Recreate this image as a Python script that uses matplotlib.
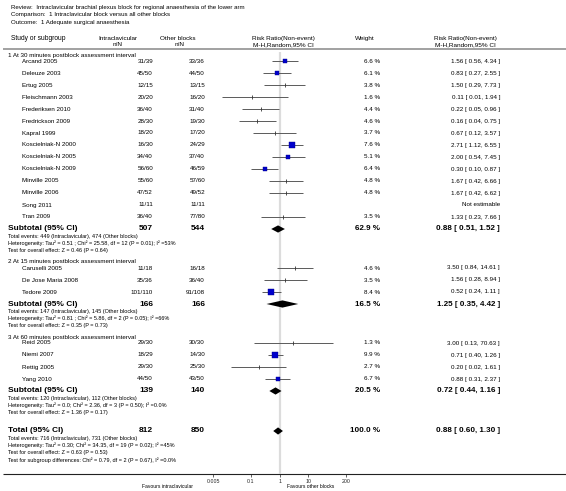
import numpy as np
import matplotlib
matplotlib.use("Agg")
import matplotlib.pyplot as plt

plt.rcParams['font.family'] = ['Liberation Sans', 'DejaVu Sans']

# header texts
review = "Review:  Intraclavicular brachial plexus block for regional anaesthesia of the lower arm"
comparison = "Comparison:  1 Intraclavicular block versus all other blocks"
outcome = "Outcome:  1 Adequate surgical anaesthesia"

# subgroup 1
title1 = "1 At 30 minutes postblock assessment interval"
studies1 = ["Arcand 2005", "Deleuze 2003", "Ertug 2005", "Fleischmann 2003", "Frederiksen 2010",
            "Fredrickson 2009", "Kapral 1999", "Koscielniak-N 2000", "Koscielniak-N 2005",
            "Koscielniak-N 2009", "Minville 2005", "Minville 2006", "Song 2011", "Tran 2009"]
intra1 = ["31/39", "45/50", "12/15", "20/20", "36/40", "28/30", "18/20", "16/30", "34/40",
          "56/60", "55/60", "47/52", "11/11", "36/40"]
other1 = ["33/36", "44/50", "13/15", "16/20", "31/40", "19/30", "17/20", "24/29", "37/40",
          "46/59", "57/60", "49/52", "11/11", "77/80"]
rr1 = [1.56, 0.83, 1.50, 0.11, 0.22, 0.16, 0.67, 2.71, 2.00, 0.30, 1.67, 1.67, None, 1.33]
lo1 = [0.56, 0.27, 0.29, 0.01, 0.05, 0.04, 0.12, 1.12, 0.54, 0.10, 0.42, 0.42, None, 0.23]
hi1 = [4.34, 2.55, 7.73, 1.94, 0.96, 0.75, 3.57, 6.55, 7.45, 0.87, 6.66, 6.62, None, 7.66]
w1 = [6.6, 6.1, 3.8, 1.6, 4.4, 4.6, 3.7, 7.6, 5.1, 6.4, 4.8, 4.8, None, 3.5]
sub1 = ["507", "544", 62.9, 0.88, 0.51, 1.52]
stats1 = ["Total events: 449 (Intraclavicular), 474 (Other blocks)",
          "Heterogeneity: Tau\u00b2 = 0.51 ; Chi\u00b2 = 25.58, df = 12 (P = 0.01); I\u00b2 =53%",
          "Test for overall effect: Z = 0.46 (P = 0.64)"]

# subgroup 2
title2 = "2 At 15 minutes postblock assessment interval"
studies2 = ["Caruselli 2005", "De Jose Maria 2008", "Tedore 2009"]
intra2 = ["11/18", "35/36", "101/110"]
other2 = ["16/18", "36/40", "91/108"]
rr2 = [3.50, 1.56, 0.52]
lo2 = [0.84, 0.28, 0.24]
hi2 = [14.61, 8.94, 1.11]
w2 = [4.6, 3.5, 8.4]
sub2 = ["166", "166", 16.5, 1.25, 0.35, 4.42]
stats2 = ["Total events: 147 (Intraclavicular), 145 (Other blocks)",
          "Heterogeneity: Tau\u00b2 = 0.81 ; Chi\u00b2 = 5.86, df = 2 (P = 0.05); I\u00b2 =66%",
          "Test for overall effect: Z = 0.35 (P = 0.73)"]

# subgroup 3
title3 = "3 At 60 minutes postblock assessment interval"
studies3 = ["Reid 2005", "Niemi 2007", "Rettig 2005", "Yang 2010"]
intra3 = ["29/30", "18/29", "29/30", "44/50"]
other3 = ["30/30", "14/30", "25/30", "43/50"]
rr3 = [3.00, 0.71, 0.20, 0.88]
lo3 = [0.13, 0.40, 0.02, 0.31]
hi3 = [70.63, 1.26, 1.61, 2.37]
w3 = [1.3, 9.9, 2.7, 6.7]
sub3 = ["139", "140", 20.5, 0.72, 0.44, 1.16]
stats3 = ["Total events: 120 (Intraclavicular), 112 (Other blocks)",
          "Heterogeneity: Tau\u00b2 = 0.0; Chi\u00b2 = 2.36, df = 3 (P = 0.50); I\u00b2 =0.0%",
          "Test for overall effect: Z = 1.36 (P = 0.17)"]

# overall
total = ["812", "850", 100.0, 0.88, 0.60, 1.30]
stats_total = ["Total events: 716 (Intraclavicular), 731 (Other blocks)",
               "Heterogeneity: Tau\u00b2 = 0.30; Chi\u00b2 = 34.35, df = 19 (P = 0.02); I\u00b2 =45%",
               "Test for overall effect: Z = 0.63 (P = 0.53)",
               "Test for subgroup differences: Chi\u00b2 = 0.79, df = 2 (P = 0.67), I\u00b2 =0.0%"]

ticks = [0.005, 0.1, 1, 10, 200]
tick_labels = ["0.005", "0.1", "1", "10", "200"]

W, H = 566, 491
fig = plt.figure(figsize=(W / 100, H / 100), dpi=100)
ax = fig.add_axes([0, 0, 1, 1])
ax.set_xlim(0, W)
ax.set_ylim(H, 0)
ax.axis('off')

# forest plot panel, y in pixel rows
fx0, fx1, fy_top, fy_axis = 213.3, 346.0, 52, 474
fx = fig.add_axes([fx0 / W, (H - fy_axis) / H, (fx1 - fx0) / W, (fy_axis - fy_top) / H])
fx.set_xscale('log')
fx.set_xlim(0.005, 200)
fx.set_ylim(fy_axis, fy_top)
fx.patch.set_visible(False)
for s in fx.spines.values():
    s.set_visible(False)
fx.set_yticks([])
fx.set_xticks(ticks)
fx.set_xticklabels(tick_labels, fontsize=3.8)
fx.minorticks_off()
fx.tick_params(axis='x', direction='out', length=2.2, width=0.5, pad=1.5, colors='#222222')
fx.axvline(1, color='#dcdcdc', lw=1.6, zorder=0)

XL, XS, XI, XO, XW, XR = 8, 22, 153, 205, 380, 500
fs_row, fs_stat, fs_bold = 4.5, 4.0, 6.0

ax.text(11, 7, review, fontsize=4.4, va='center')
ax.text(11, 14.5, comparison, fontsize=4.4, va='center')
ax.text(11, 22, outcome, fontsize=4.4, va='center')

ax.text(11, 38, "Study or subgroup", fontsize=4.8, va='center')
ax.text(118, 38, "Intraclavicular", fontsize=4.6, va='center', ha='center')
ax.text(118, 44.5, "n/N", fontsize=4.6, va='center', ha='center')
ax.text(178, 38, "Other blocks", fontsize=4.6, va='center', ha='center')
ax.text(180, 44.5, "n/N", fontsize=4.6, va='center', ha='center')
ax.text(283, 38, "Risk Ratio(Non-event)", fontsize=4.6, va='center', ha='center')
ax.text(283, 44.5, "M-H,Random,95% CI", fontsize=4.6, va='center', ha='center')
ax.text(365, 38, "Weight", fontsize=4.6, va='center', ha='center')
ax.text(465, 38, "Risk Ratio(Non-event)", fontsize=4.6, va='center', ha='center')
ax.text(465, 44.5, "M-H,Random,95% CI", fontsize=4.6, va='center', ha='center')
ax.hlines(49, 3, W, color='#9a9a9a', lw=1.3)


def diamond(y, est, lo, hi, half=3.6):
    fx.fill([lo, est, hi, est], [y, y - half, y, y + half], color='black', lw=0)


def summary_row(y, label, vals, stats):
    ax.text(XL, y, label, fontsize=fs_bold, weight='bold', va='center')
    ax.text(XI, y, vals[0], fontsize=fs_bold, weight='bold', va='center', ha='right')
    ax.text(XO, y, vals[1], fontsize=fs_bold, weight='bold', va='center', ha='right')
    ax.text(XW, y, f"{vals[2]:.1f} %", fontsize=5.8, weight='bold', va='center', ha='right')
    ax.text(XR, y, f"{vals[3]:.2f} [ {vals[4]:.2f}, {vals[5]:.2f} ]", fontsize=5.8,
            weight='bold', va='center', ha='right')
    diamond(y, vals[3], vals[4], vals[5])
    for k, s in enumerate(stats):
        ax.text(XL, y + 7.3 * (k + 1), s, fontsize=fs_stat, va='center')


def subgroup(y0, title, studies, intra, other, rr, lo, hi, w, sub, stats):
    ax.text(XL, y0 - 6, title, fontsize=fs_row, va='center')
    for i, name in enumerate(studies):
        y = y0 + 12 * i
        ax.text(XS, y, name, fontsize=fs_row, va='center')
        ax.text(XI, y, intra[i], fontsize=fs_row, va='center', ha='right')
        ax.text(XO, y, other[i], fontsize=fs_row, va='center', ha='right')
        if rr[i] is None:
            ax.text(XR, y, "Not estimable", fontsize=fs_row, va='center', ha='right')
            continue
        ax.text(XW, y, f"{w[i]:.1f} %", fontsize=fs_row, va='center', ha='right')
        ax.text(XR, y, f"{rr[i]:.2f} [ {lo[i]:.2f}, {hi[i]:.2f} ]", fontsize=fs_row,
                va='center', ha='right')
        fx.hlines(y, lo[i], hi[i], color='#5a5a5a', lw=0.7)
        if w[i] >= 5:
            fx.plot(rr[i], y, marker='s', ms=np.sqrt(w[i]) * 1.35, color='#0000cc',
                    mec='#000088', mew=0.3)
        else:
            fx.plot(rr[i], y, marker='|', ms=2.8, color='#333333', mew=0.6)
    ys = y0 + 12 * len(studies)
    summary_row(ys, "Subtotal (95% CI)", sub, stats)
    return ys


y_sub1 = subgroup(61, title1, studies1, intra1, other1, rr1, lo1, hi1, w1, sub1, stats1)
y_sub2 = subgroup(y_sub1 + 39, title2, studies2, intra2, other2, rr2, lo2, hi2, w2, sub2, stats2)
y_sub3 = subgroup(y_sub2 + 39, title3, studies3, intra3, other3, rr3, lo3, hi3, w3, sub3, stats3)
summary_row(y_sub3 + 40, "Total (95% CI)", total, stats_total)

ax.hlines(fy_axis, 3, W, color='#222222', lw=0.8)
ax.text(167, 486, "Favours intraclavicular", fontsize=3.6, va='center', ha='center')
ax.text(311, 486, "Favours other blocks", fontsize=3.6, va='center', ha='center')

fig.savefig("out.png", dpi=100)
